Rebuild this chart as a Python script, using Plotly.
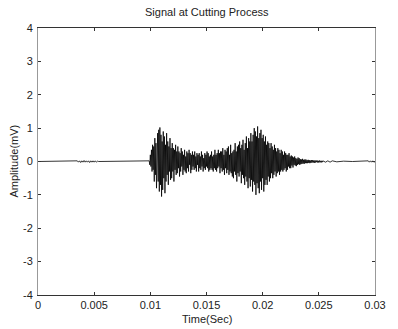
import numpy as np
import plotly.graph_objects as go

# ---- data ----
title_text = "Signal at Cutting Process"
x_title = "Time(Sec)"
y_title = "Amplitude(mV)"

x_tick_vals = [0, 0.005, 0.01, 0.015, 0.02, 0.025, 0.03]
x_tick_text = ["0", "0.005", "0.01", "0.015", "0.02", "0.025", "0.03"]
y_tick_vals = [-4, -3, -2, -1, 0, 1, 2, 3, 4]
y_tick_text = ["-4", "-3", "-2", "-1", "0", "1", "2", "3", "4"]

# quiet part before the cut
quiet_time = [0.0, 0.0034, 0.0035, 0.0036, 0.0037, 0.0038, 0.0039, 0.0040,
              0.0041, 0.0042, 0.0043, 0.0044, 0.0045, 0.0046, 0.0047, 0.0048,
              0.0049, 0.0050, 0.0051, 0.0052, 0.0053, 0.0054, 0.0098]
quiet_amp = [0.0, 0.0, 0.02, -0.02, 0.02, -0.03, 0.02, -0.02,
             0.03, -0.02, 0.02, -0.02, 0.02, -0.03, 0.02, -0.02,
             0.02, -0.02, 0.02, -0.02, 0.01, 0.0, 0.0]

# cutting burst, sampled every 0.05 ms starting at 9.9 ms
burst_start = 0.0099
burst_step = 0.00005
burst_amp = [
    0.02, -0.1, 0.2, -0.15, 0.35, -0.3, 0.5, -0.25, 0.45, -0.6,
    0.7, -0.4, 0.55, -0.8, 0.3, 0.85, -0.6, 0.95, -0.9, 1.02,
    -0.7, 0.8, -1.05, 0.6, -0.85, 0.9, -0.5, 0.75, -0.95, 0.5,
    -0.6, 0.85, -0.4, 0.6, -0.7, 0.45, -0.3, 0.7, -0.55, 0.4,
    -0.5, 0.55, -0.3, 0.4, -0.6, 0.35, -0.25, 0.5, -0.4, 0.3,
    -0.35, 0.45, -0.2, 0.3, -0.45, 0.25, -0.3, 0.4, -0.15, 0.3,
    -0.4, 0.2, -0.25, 0.35, -0.3, 0.15, -0.35, 0.3, -0.2, 0.25,
    -0.3, 0.35, -0.1, 0.25, -0.35, 0.2, -0.25, 0.3, -0.15, 0.2,
    -0.25, 0.3, -0.2, 0.15, -0.3, 0.25, -0.1, 0.2, -0.3, 0.25,
    -0.2, 0.15, -0.25, 0.3, -0.15, 0.2, -0.3, 0.1, -0.2, 0.25,
    -0.25, 0.2, -0.15, 0.3, -0.2, 0.25, -0.3, 0.15, -0.25, 0.2,
    -0.2, 0.3, -0.25, 0.15, -0.3, 0.2, -0.2, 0.35, -0.25, 0.2,
    -0.3, 0.25, -0.2, 0.35, -0.15, 0.25, -0.35, 0.3, -0.2, 0.3,
    -0.3, 0.4, -0.25, 0.2, -0.4, 0.35, -0.2, 0.3, -0.35, 0.4,
    -0.25, 0.45, -0.4, 0.2, -0.3, 0.5, -0.35, 0.25, -0.45, 0.3,
    -0.5, 0.35, -0.3, 0.55, -0.4, 0.3, -0.6, 0.45, -0.35, 0.5,
    -0.45, 0.6, -0.3, 0.4, -0.65, 0.5, -0.4, 0.65, -0.5, 0.35,
    -0.7, 0.55, -0.45, 0.75, -0.6, 0.4, -0.8, 0.7, -0.5, 0.6,
    -0.75, 0.85, -0.55, 0.6, -0.9, 0.8, -0.6, 1.0, -0.7, 0.9,
    -1.0, 0.75, -0.65, 1.05, -0.8, 0.7, -0.95, 0.85, -0.6, 0.95,
    -0.85, 0.7, -0.5, 0.8, -0.9, 0.6, -0.7, 0.75, -0.55, 0.5,
    -0.7, 0.6, -0.45, 0.55, -0.6, 0.4, -0.5, 0.55, -0.35, 0.45,
    -0.5, 0.35, -0.4, 0.5, -0.3, 0.4, -0.45, 0.3, -0.35, 0.4,
    -0.3, 0.35, -0.4, 0.25, -0.3, 0.35, -0.25, 0.3, -0.3, 0.2,
    -0.25, 0.3, -0.2, 0.25, -0.3, 0.2, -0.25, 0.2, -0.15, 0.25,
    -0.2, 0.15, -0.2, 0.18, -0.12, 0.15, -0.18, 0.12, -0.1, 0.15,
    -0.12, 0.1, -0.14, 0.08, -0.1, 0.12, -0.08, 0.1, -0.1, 0.07,
    -0.08, 0.06, -0.07, 0.08, -0.06, 0.05, -0.07, 0.06, -0.05, 0.06,
    -0.05, 0.04, -0.05, 0.05, -0.04, 0.04, -0.05, 0.03, -0.04, 0.04,
    -0.03, 0.04, -0.03, 0.03, -0.04, 0.03, -0.03, 0.03, -0.02, 0.03,
    -0.03, 0.02, -0.03, 0.03, -0.02, 0.02, -0.03, 0.02, -0.02, 0.02,
]

# residual tail after the cut
tail_time = [0.0256, 0.0258, 0.0260, 0.0262, 0.0266, 0.0272, 0.0280,
             0.0288, 0.0293, 0.0294, 0.0295, 0.0296, 0.0297, 0.0298, 0.0299, 0.0300]
tail_amp = [-0.02, 0.02, -0.02, 0.02, -0.01, 0.01, 0.0,
            0.0, 0.0, 0.02, -0.02, 0.02, -0.02, 0.02, -0.02, 0.0]

burst_time = list(np.round(burst_start + burst_step * np.arange(len(burst_amp)), 6))
time = quiet_time + burst_time + tail_time
amp = quiet_amp + burst_amp + tail_amp

font_family = "Liberation Sans, Arial, sans-serif"

fig = go.Figure()
fig.add_trace(go.Scatter(x=time, y=amp, mode="lines",
                         line=dict(color="black", width=0.8),
                         showlegend=False, hoverinfo="skip"))

fig.update_layout(
    width=398, height=329,
    margin=dict(l=38, r=13, t=28, b=34),
    paper_bgcolor="white", plot_bgcolor="white",
    font=dict(family=font_family, size=11, color="#222"),
    showlegend=False,
    annotations=[
        dict(text=title_text, x=0.5, y=1, xref="paper", yref="paper",
             xanchor="center", yanchor="bottom", yshift=8, showarrow=False,
             font=dict(size=11, color="#222", family=font_family)),
        dict(text=x_title, x=0.5, y=0, xref="paper", yref="paper",
             xanchor="center", yanchor="middle", yshift=-24, showarrow=False,
             font=dict(size=11, color="#222", family=font_family)),
        dict(text=y_title, x=0, y=0.5, xref="paper", yref="paper",
             xanchor="center", yanchor="middle", xshift=-25, textangle=-90,
             showarrow=False,
             font=dict(size=11, color="#222", family=font_family)),
    ],
)
fig.update_xaxes(range=[0, 0.03], tickvals=x_tick_vals, ticktext=x_tick_text,
                 ticks="inside", ticklen=3, tickcolor="#333",
                 showline=True, linecolor="#333", linewidth=1, mirror="ticks",
                 showgrid=False, zeroline=False, ticklabelstandoff=0,
                 tickfont=dict(size=11))
fig.update_yaxes(range=[-4, 4], tickvals=y_tick_vals, ticktext=y_tick_text,
                 ticks="inside", ticklen=3, tickcolor="#333",
                 showline=True, linecolor="#999", linewidth=1, mirror="ticks",
                 showgrid=False, zeroline=False, ticklabelstandoff=2,
                 tickfont=dict(size=11))

fig.write_html("out.html")
